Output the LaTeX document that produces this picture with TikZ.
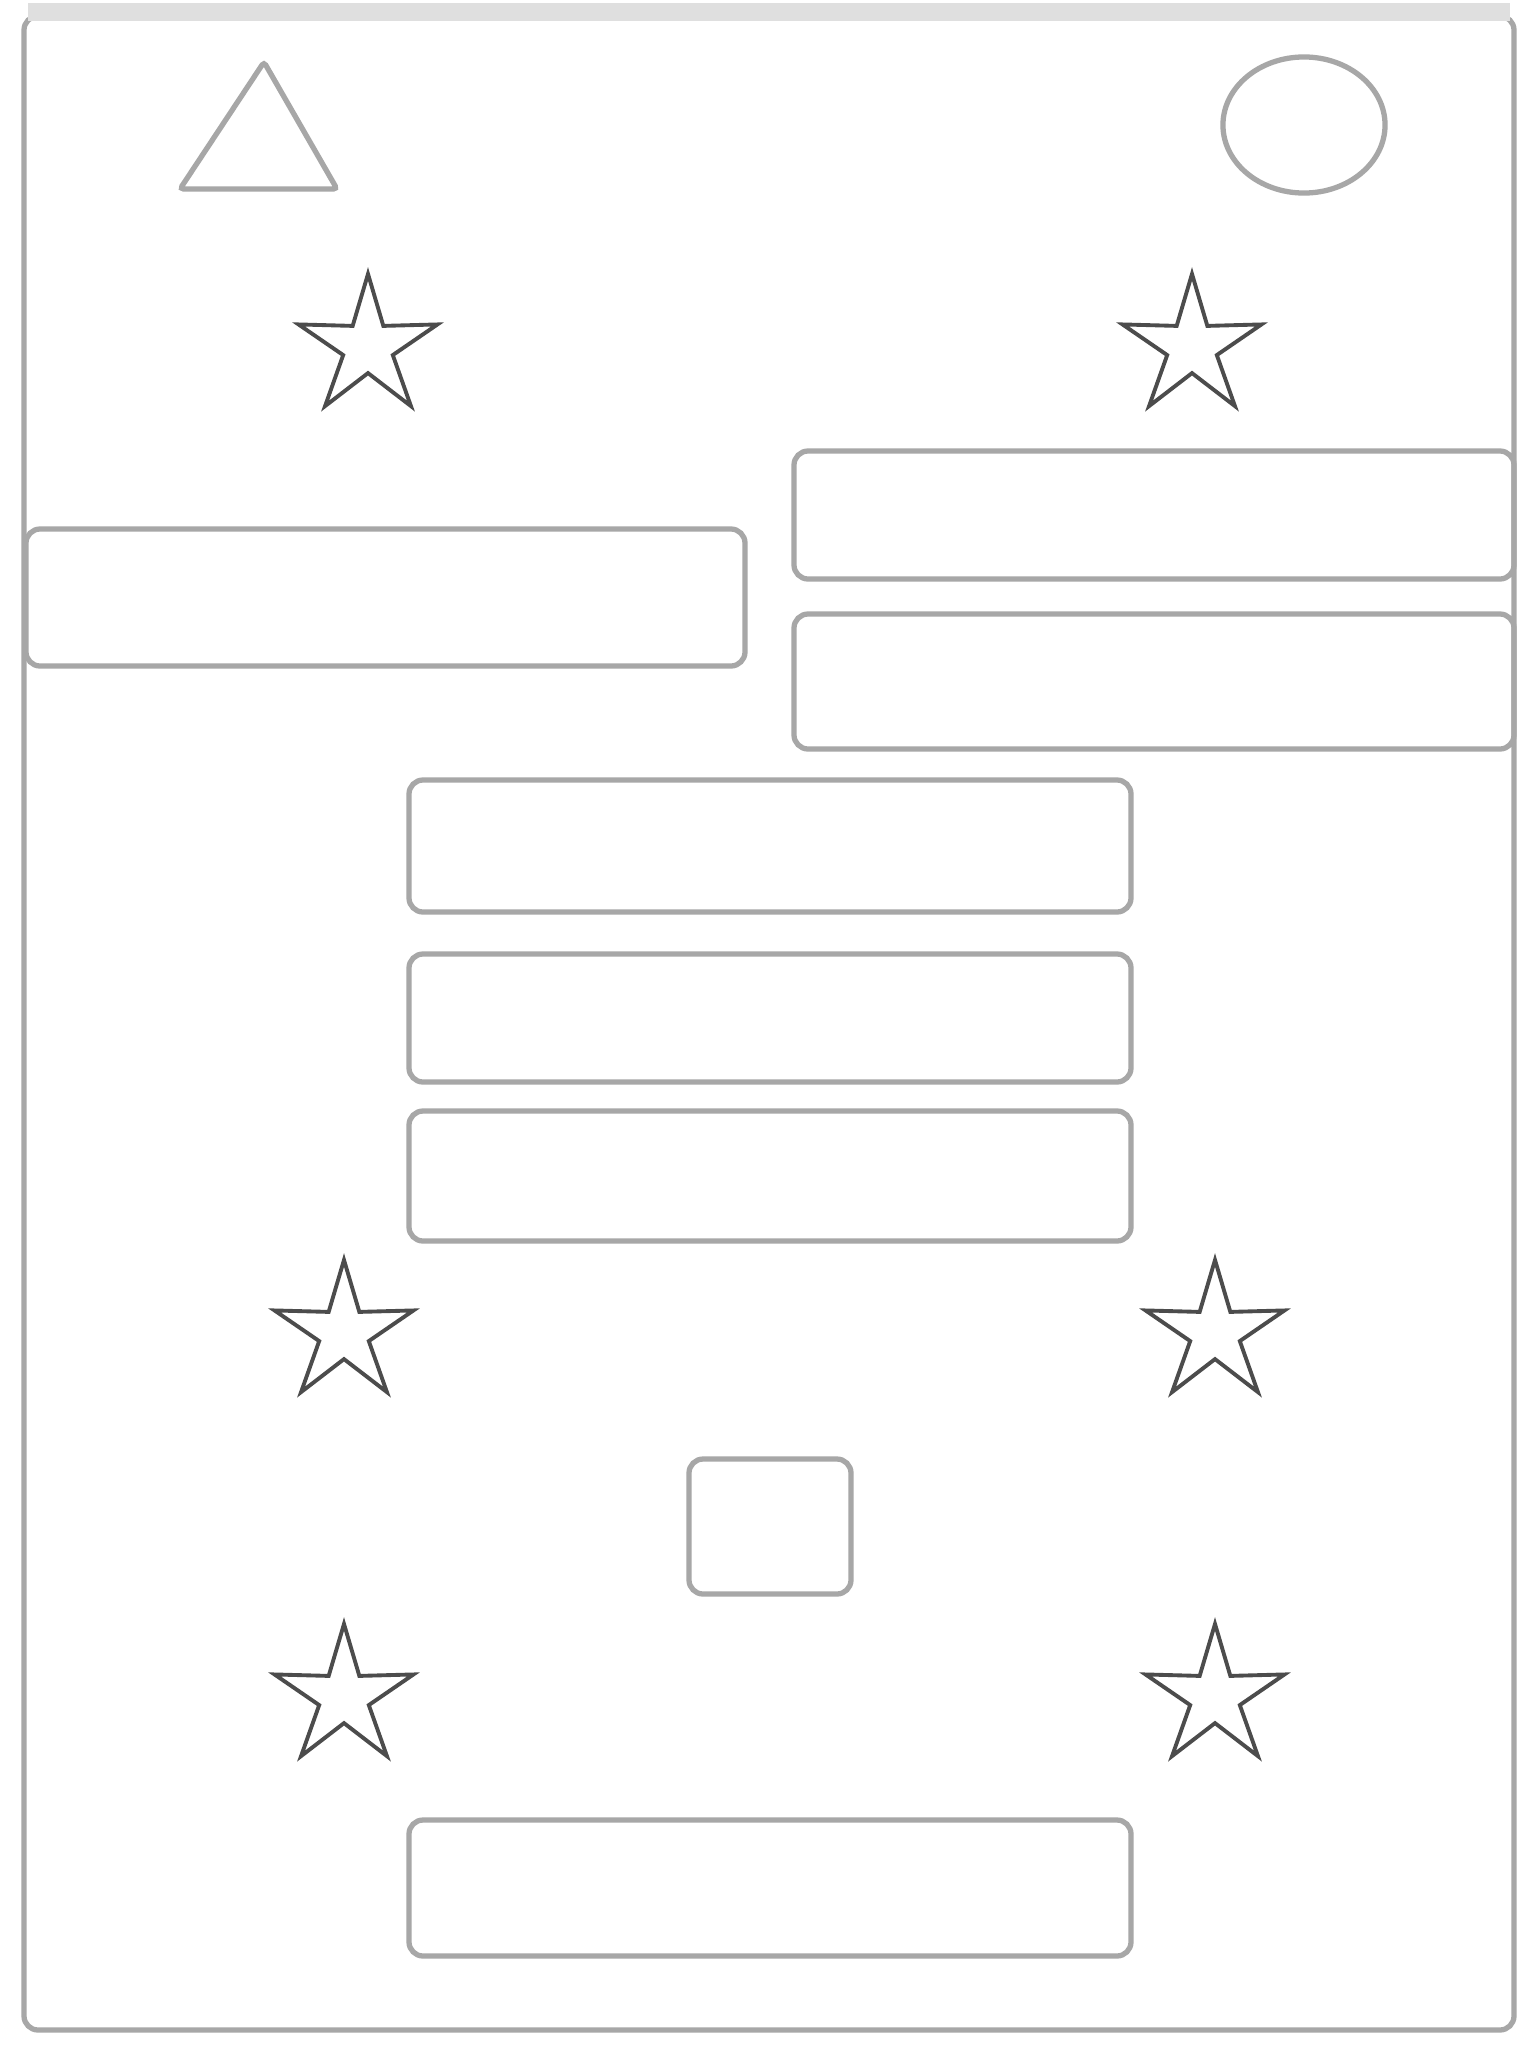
\documentclass[tikz,border=0pt]{standalone}
\usetikzlibrary{shapes.geometric}

\tikzset{
  wire/.style={draw=gray!85!black!60, line width=1.5pt, rounded corners=4pt},
  starmark/.style={star, star points=5, star point ratio=2.8, draw=gray!60!black, line width=1.1pt, minimum size=1.46cm, inner sep=0pt}
}

\begin{document}
\begin{tikzpicture}[x=0.01cm, y=-0.01cm]
\useasboundingbox (0,0) rectangle (1536,2048);
\fill[white] (0,0) rectangle (1536,2048);

% frame
\draw[wire] (24,16) rectangle (1514,2030);
\draw[gray!25, line width=5pt] (28,12) -- (1510,12);

% top shapes
\draw[wire, rounded corners=1pt] (264,62) -- (337,189) -- (180,189) -- cycle;
\node[ellipse, draw=gray!85!black!60, line width=1.5pt, minimum width=1.62cm, minimum height=1.36cm] (oval) at (1304,125) {};

% stars
\foreach \x/\y/\n in {368/347/s1, 1192/347/s2, 344/1333/s3, 1215/1333/s4, 344/1697/s5, 1215/1697/s6} {
\node[starmark] (\n) at (\x,\y) {};
}

% bars
\draw[wire] (26,529) rectangle (745,666);
\draw[wire] (794,451) rectangle (1514,579);
\draw[wire] (794,614) rectangle (1514,749);

\draw[wire] (409,780) rectangle (1131,912);
\draw[wire] (409,954) rectangle (1131,1082);
\draw[wire] (409,1111) rectangle (1131,1241);

\draw[wire] (689,1459) rectangle (851,1594);

\draw[wire] (409,1820) rectangle (1131,1956);

\end{tikzpicture}
\end{document}
